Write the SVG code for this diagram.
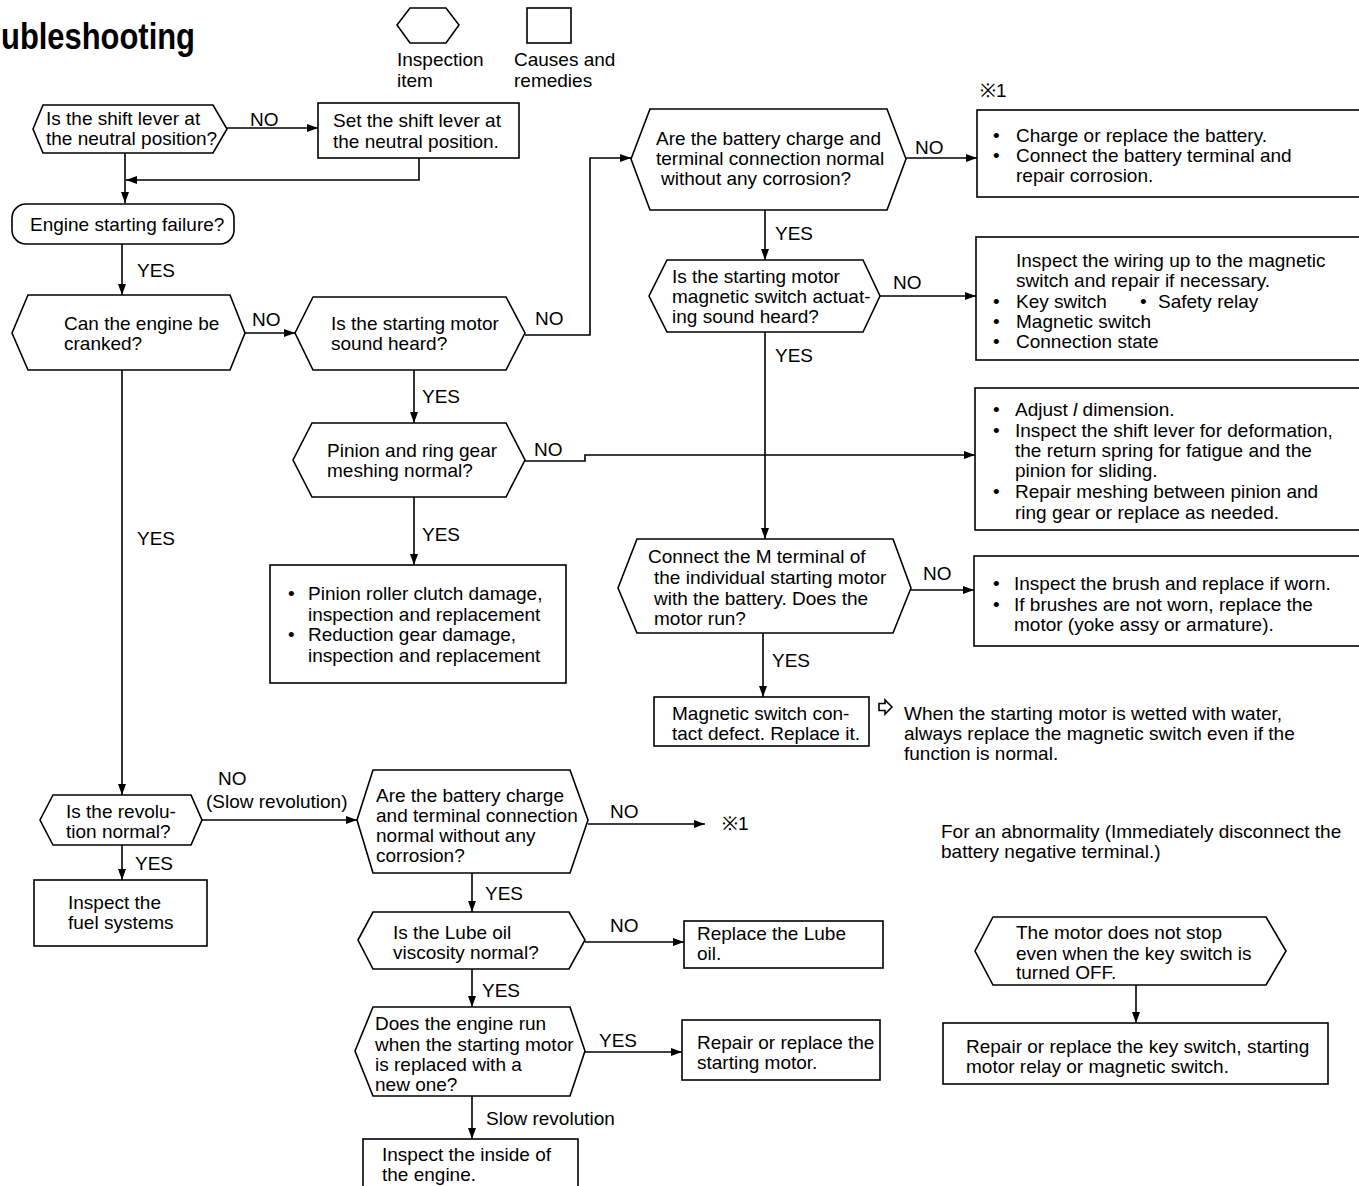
<svg xmlns="http://www.w3.org/2000/svg" width="1359" height="1186" viewBox="0 0 1359 1186">
<style>
  text { font-family: "Liberation Sans", Arial, sans-serif; font-size: 19px; fill: #000; }
  .shape { fill: #fff; stroke: #000; stroke-width: 1.6; }
  .conn { fill: none; stroke: #000; stroke-width: 1.6; }
  .title { font-weight: bold; font-size: 36px; }
</style>
<defs>
  <marker id="ah" markerUnits="userSpaceOnUse" markerWidth="12" markerHeight="10" refX="11" refY="4" orient="auto">
    <path d="M0,0 L11,4 L0,8 Z" fill="#000"/>
  </marker>
</defs>
<rect x="0" y="0" width="1359" height="1186" fill="#fff"/>

<text class="title" x="1" y="49" textLength="194" lengthAdjust="spacingAndGlyphs">ubleshooting</text>

<g id="legend">
  <polygon class="shape" points="397,25 410,8 446,8 459,25 446,43 410,43"/>
  <rect class="shape" x="527" y="8" width="44" height="35"/>
  <text x="397" y="66">Inspection</text>
  <text x="397" y="87">item</text>
  <text x="514" y="66">Causes and</text>
  <text x="514" y="87">remedies</text>
</g>

<g id="connectors">
  <path class="conn" d="M125,153 V203" marker-end="url(#ah)"/>
  <path class="conn" d="M227,128 H318" marker-end="url(#ah)"/>
  <path class="conn" d="M419,158 V180 H126" marker-end="url(#ah)"/>
  <path class="conn" d="M122,244 V295" marker-end="url(#ah)"/>
  <path class="conn" d="M245,333 H295" marker-end="url(#ah)"/>
  <path class="conn" d="M525,335 H590 V158 H631" marker-end="url(#ah)"/>
  <path class="conn" d="M905,158 H977" marker-end="url(#ah)"/>
  <path class="conn" d="M765,210 V260" marker-end="url(#ah)"/>
  <path class="conn" d="M880,296 H976" marker-end="url(#ah)"/>
  <path class="conn" d="M765,332 V539" marker-end="url(#ah)"/>
  <path class="conn" d="M414,370 V423" marker-end="url(#ah)"/>
  <path class="conn" d="M525,461 H585 V455 H975" marker-end="url(#ah)"/>
  <path class="conn" d="M414,497 V565" marker-end="url(#ah)"/>
  <path class="conn" d="M911,590 H974" marker-end="url(#ah)"/>
  <path class="conn" d="M763,633 V697" marker-end="url(#ah)"/>
  <path class="conn" d="M122,370 V795" marker-end="url(#ah)"/>
  <path class="conn" d="M122,845 V880" marker-end="url(#ah)"/>
  <path class="conn" d="M202,820 H357" marker-end="url(#ah)"/>
  <path class="conn" d="M588,824 H705" marker-end="url(#ah)"/>
  <path class="conn" d="M472,873 V912" marker-end="url(#ah)"/>
  <path class="conn" d="M585,942 H684" marker-end="url(#ah)"/>
  <path class="conn" d="M472,969 V1007" marker-end="url(#ah)"/>
  <path class="conn" d="M585,1052 H682" marker-end="url(#ah)"/>
  <path class="conn" d="M472,1096 V1139" marker-end="url(#ah)"/>
  <path class="conn" d="M1136,985 V1023" marker-end="url(#ah)"/>
  <text x="250" y="126">NO</text>
  <text x="137" y="277">YES</text>
  <text x="252" y="326">NO</text>
  <text x="535" y="325">NO</text>
  <text x="915" y="154">NO</text>
  <text x="775" y="240">YES</text>
  <text x="893" y="289">NO</text>
  <text x="775" y="362">YES</text>
  <text x="422" y="403">YES</text>
  <text x="534" y="456">NO</text>
  <text x="422" y="541">YES</text>
  <text x="923" y="580">NO</text>
  <text x="772" y="667">YES</text>
  <text x="137" y="545">YES</text>
  <text x="135" y="870">YES</text>
  <text x="218" y="785">NO</text>
  <text x="206" y="808">(Slow revolution)</text>
  <text x="610" y="818">NO</text>
  <text x="722" y="830">※1</text>
  <text x="485" y="900">YES</text>
  <text x="610" y="932">NO</text>
  <text x="482" y="997">YES</text>
  <text x="599" y="1047">YES</text>
  <text x="486" y="1125">Slow revolution</text>
</g>

<g id="n-shift-lever">
  <polygon class="shape" points="33,129 43,105 213,105 227,129 213,153 43,153"/>
  <text x="46" y="125">Is the shift lever at</text>
  <text x="46" y="145">the neutral position?</text>
</g>
<g id="n-set-lever">
  <rect class="shape" x="318" y="103" width="201" height="55"/>
  <text x="333" y="127">Set the shift lever at</text>
  <text x="333" y="148">the neutral position.</text>
</g>
<g id="n-engine-fail">
  <rect class="shape" x="12" y="204" width="222" height="40" rx="14"/>
  <text x="30" y="231">Engine starting failure?</text>
</g>
<g id="n-cranked">
  <polygon class="shape" points="12,333 28,295 230,295 245,333 230,370 28,370"/>
  <text x="64" y="330">Can the engine be</text>
  <text x="64" y="350">cranked?</text>
</g>
<g id="n-motor-sound">
  <polygon class="shape" points="295,333 313,297 506,297 525,333 506,370 313,370"/>
  <text x="331" y="330">Is the starting motor</text>
  <text x="331" y="350">sound heard?</text>
</g>
<g id="n-battery1">
  <polygon class="shape" points="631,159 650,109 887,109 906,159 887,210 650,210"/>
  <text x="656" y="145">Are the battery charge and</text>
  <text x="656" y="165">terminal connection normal</text>
  <text x="661" y="185">without any corrosion?</text>
</g>
<g id="n-charge">
  <text x="980" y="97">※1</text>
  <rect class="shape" x="977" y="110" width="390" height="87"/>
  <text x="993" y="142">•</text><text x="1016" y="142">Charge or replace the battery.</text>
  <text x="993" y="162">•</text><text x="1016" y="162">Connect the battery terminal and</text>
  <text x="1016" y="182">repair corrosion.</text>
</g>
<g id="n-mag-sound">
  <polygon class="shape" points="649,296 667,260 863,260 880,296 863,332 667,332"/>
  <text x="672" y="283">Is the starting motor</text>
  <text x="672" y="303">magnetic switch actuat-</text>
  <text x="672" y="323">ing sound heard?</text>
</g>
<g id="n-wiring">
  <rect class="shape" x="976" y="237" width="390" height="123"/>
  <text x="1016" y="267">Inspect the wiring up to the magnetic</text>
  <text x="1016" y="287">switch and repair if necessary.</text>
  <text x="993" y="308">•</text><text x="1016" y="308">Key switch</text>
  <text x="1140" y="308">•</text><text x="1158" y="308">Safety relay</text>
  <text x="993" y="328">•</text><text x="1016" y="328">Magnetic switch</text>
  <text x="993" y="348">•</text><text x="1016" y="348">Connection state</text>
</g>
<g id="n-pinion">
  <polygon class="shape" points="293,460 312,423 506,423 525,460 506,497 312,497"/>
  <text x="327" y="457">Pinion and ring gear</text>
  <text x="327" y="477">meshing normal?</text>
</g>
<g id="n-adjust">
  <rect class="shape" x="975" y="388" width="390" height="142"/>
  <text x="993" y="416">•</text><text x="1015" y="416">Adjust <tspan font-style="italic">l</tspan> dimension.</text>
  <text x="993" y="437">•</text><text x="1015" y="437">Inspect the shift lever for deformation,</text>
  <text x="1015" y="457">the return spring for fatigue and the</text>
  <text x="1015" y="477">pinion for sliding.</text>
  <text x="993" y="498">•</text><text x="1015" y="498">Repair meshing between pinion and</text>
  <text x="1015" y="519">ring gear or replace as needed.</text>
</g>
<g id="n-roller-clutch">
  <rect class="shape" x="270" y="565" width="296" height="118"/>
  <text x="288" y="600">•</text><text x="308" y="600">Pinion roller clutch damage,</text>
  <text x="308" y="621">inspection and replacement</text>
  <text x="288" y="641">•</text><text x="308" y="641">Reduction gear damage,</text>
  <text x="308" y="662">inspection and replacement</text>
</g>
<g id="n-m-terminal">
  <polygon class="shape" points="618,588 637,539 893,539 911,588 893,633 637,633"/>
  <text x="648" y="563">Connect the M terminal of</text>
  <text x="654" y="584">the individual starting motor</text>
  <text x="654" y="605">with the battery. Does the</text>
  <text x="654" y="625">motor run?</text>
</g>
<g id="n-brush">
  <rect class="shape" x="974" y="556" width="392" height="90"/>
  <text x="993" y="590">•</text><text x="1014" y="590">Inspect the brush and replace if worn.</text>
  <text x="993" y="611">•</text><text x="1014" y="611">If brushes are not worn, replace the</text>
  <text x="1014" y="631">motor (yoke assy or armature).</text>
</g>
<g id="n-mag-contact">
  <rect class="shape" x="654" y="697" width="215" height="49"/>
  <text x="672" y="720">Magnetic switch con-</text>
  <text x="672" y="740">tact defect. Replace it.</text>
</g>
<g id="n-note-water">
  <path class="conn" d="M879,703.5 H885 V700 L892,707 L885,714 V710.5 H879 Z" stroke-width="1.4"/>
  <text x="904" y="720">When the starting motor is wetted with water,</text>
  <text x="904" y="740">always replace the magnetic switch even if the</text>
  <text x="904" y="760">function is normal.</text>
</g>
<g id="n-revolution">
  <polygon class="shape" points="40,820 53,795 191,795 202,820 191,845 53,845"/>
  <text x="66" y="818">Is the revolu-</text>
  <text x="66" y="838">tion normal?</text>
</g>
<g id="n-fuel">
  <rect class="shape" x="34" y="880" width="173" height="66"/>
  <text x="68" y="909">Inspect the</text>
  <text x="68" y="929">fuel systems</text>
</g>
<g id="n-battery2">
  <polygon class="shape" points="357,820 373,770 570,770 588,820 570,873 373,873"/>
  <text x="376" y="802">Are the battery charge</text>
  <text x="376" y="822">and terminal connection</text>
  <text x="376" y="842">normal without any</text>
  <text x="376" y="862">corrosion?</text>
</g>
<g id="n-lube">
  <polygon class="shape" points="358,940 373,912 569,912 585,940 569,969 373,969"/>
  <text x="393" y="939">Is the Lube oil</text>
  <text x="393" y="959">viscosity normal?</text>
</g>
<g id="n-replace-lube">
  <rect class="shape" x="684" y="921" width="199" height="47"/>
  <text x="697" y="940">Replace the Lube</text>
  <text x="697" y="960">oil.</text>
</g>
<g id="n-new-motor">
  <polygon class="shape" points="355,1051 373,1007 570,1007 585,1051 570,1096 373,1096"/>
  <text x="375" y="1030">Does the engine run</text>
  <text x="375" y="1051">when the starting motor</text>
  <text x="375" y="1071">is replaced with a</text>
  <text x="375" y="1091">new one?</text>
</g>
<g id="n-repair-motor">
  <rect class="shape" x="682" y="1020" width="198" height="60"/>
  <text x="697" y="1049">Repair or replace the</text>
  <text x="697" y="1069">starting motor.</text>
</g>
<g id="n-inside-engine">
  <rect class="shape" x="363" y="1139" width="215" height="52"/>
  <text x="382" y="1161">Inspect the inside of</text>
  <text x="382" y="1181">the engine.</text>
</g>
<g id="n-abnormality">
  <text x="941" y="838">For an abnormality (Immediately disconnect the</text>
  <text x="941" y="858">battery negative terminal.)</text>
</g>
<g id="n-not-stop">
  <polygon class="shape" points="975,951 993,917 1266,917 1286,951 1266,985 993,985"/>
  <text x="1016" y="939">The motor does not stop</text>
  <text x="1016" y="960">even when the key switch is</text>
  <text x="1016" y="979">turned OFF.</text>
</g>
<g id="n-repair-key">
  <rect class="shape" x="943" y="1023" width="385" height="61"/>
  <text x="966" y="1053">Repair or replace the key switch, starting</text>
  <text x="966" y="1073">motor relay or magnetic switch.</text>
</g>
</svg>
